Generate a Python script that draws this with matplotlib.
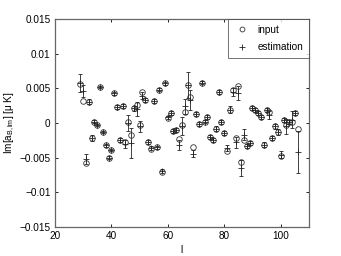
import matplotlib
matplotlib.use("Agg")
import matplotlib.pyplot as plt
from matplotlib.lines import Line2D
import numpy as np

l_vals = [29, 30, 31, 32, 33, 34, 35, 36, 37, 38, 39, 40, 41, 42, 43, 44, 45, 46, 47, 48,
          49, 50, 51, 52, 53, 54, 55, 56, 57, 58, 59, 60, 61, 62, 63, 64, 65, 66, 67, 68,
          69, 70, 71, 72, 73, 74, 75, 76, 77, 78, 79, 80, 81, 82, 83, 84, 85, 86, 87, 88,
          89, 90, 91, 92, 93, 94, 95, 96, 97, 98, 99, 100, 101, 102, 103, 104, 105, 106]
input_vals = [0.0056, 0.0032, -0.0058, 0.0031, -0.0022, 0.0002, -0.0003, 0.0052, -0.0013, -0.0032,
              -0.0050, -0.0039, 0.0043, 0.0023, -0.0025, 0.0024, -0.0027, 0.0002, -0.0017, 0.0021,
              0.0026, -0.0003, 0.0045, 0.0033, -0.0027, -0.0037, 0.0032, -0.0035, 0.0048, -0.0070,
              0.0057, 0.0007, 0.0014, -0.0011, -0.0010, -0.0023, -0.0003, 0.0016, 0.0055, 0.0037,
              -0.0035, 0.0013, -0.0001, 0.0058, 0.0002, 0.0009, -0.0020, -0.0025, -0.0008, 0.0045,
              0.0002, -0.0015, -0.0041, 0.0019, 0.0047, -0.0021, 0.0053, -0.0056, -0.0025, -0.0033,
              -0.0029, 0.0022, 0.0019, 0.0015, 0.0009, -0.0031, 0.0019, 0.0016, -0.0022, -0.0005,
              -0.0013, -0.0048, 0.0004, -0.0003, 0.0002, 0.0002, 0.0015, -0.0008]
est_vals = [0.0057, 0.0046, -0.0052, 0.0031, -0.0022, 0.0002, -0.0003, 0.0052, -0.0013, -0.0032,
            -0.0050, -0.0039, 0.0043, 0.0023, -0.0025, 0.0024, -0.0030, 0.0000, -0.0029, 0.0021,
            0.0020, -0.0005, 0.0039, 0.0033, -0.0027, -0.0036, 0.0032, -0.0035, 0.0048, -0.0069,
            0.0057, 0.0008, 0.0014, -0.0011, -0.0010, -0.0032, -0.0005, 0.0024, 0.0055, 0.0033,
            -0.0044, 0.0013, -0.0001, 0.0058, 0.0002, 0.0009, -0.0020, -0.0025, -0.0008, 0.0045,
            0.0002, -0.0015, -0.0036, 0.0019, 0.0045, -0.0028, 0.0043, -0.0065, -0.0017, -0.0033,
            -0.0029, 0.0022, 0.0019, 0.0015, 0.0009, -0.0031, 0.0019, 0.0012, -0.0022, -0.0005,
            -0.0013, -0.0046, 0.0004, -0.0005, 0.0002, 0.0005, 0.0015, -0.0042]
err_vals = [0.0013, 0.0009, 0.0007, 0.0003, 0.0004, 0.0002, 0.0002, 0.0002, 0.0002, 0.0002,
            0.0002, 0.0002, 0.0002, 0.0003, 0.0003, 0.0003, 0.0006, 0.0012, 0.0022, 0.0003,
            0.0010, 0.0008, 0.0005, 0.0003, 0.0003, 0.0003, 0.0003, 0.0002, 0.0002, 0.0003,
            0.0002, 0.0002, 0.0003, 0.0003, 0.0003, 0.0007, 0.0013, 0.0011, 0.0019, 0.0014,
            0.0005, 0.0003, 0.0003, 0.0002, 0.0002, 0.0003, 0.0003, 0.0003, 0.0003, 0.0003,
            0.0003, 0.0003, 0.0005, 0.0005, 0.0006, 0.0008, 0.0010, 0.0011, 0.0008, 0.0003,
            0.0003, 0.0003, 0.0003, 0.0003, 0.0003, 0.0003, 0.0003, 0.0006, 0.0003, 0.0003,
            0.0005, 0.0005, 0.0003, 0.0011, 0.0003, 0.0012, 0.0003, 0.0030]

x_ticks = [20, 40, 60, 80, 100]
y_ticks = [-0.015, -0.01, -0.005, 0, 0.005, 0.01, 0.015]
y_ticklabels = ["\u22120.015", "\u22120.01", "\u22120.005", "0", "0.005", "0.01", "0.015"]

plt.rcParams['font.family'] = ['Liberation Sans', 'DejaVu Sans']
plt.rcParams['mathtext.fontset'] = 'custom'
plt.rcParams['mathtext.rm'] = 'Liberation Sans'
plt.rcParams['mathtext.it'] = 'Liberation Sans'
plt.rcParams['mathtext.default'] = 'regular'

fig = plt.figure(figsize=(3.41, 2.56), dpi=100)
ax = fig.add_axes([0.161, 0.113, 0.745, 0.813])

ax.plot(l_vals, input_vals, linestyle='none', marker='o', markersize=4,
        markerfacecolor='none', markeredgecolor='#333333', markeredgewidth=0.6)
ax.errorbar(l_vals, est_vals, yerr=err_vals, fmt='+', color='#222222', markersize=4,
            elinewidth=0.6, capsize=1.5, capthick=0.6, markeredgewidth=0.6)

ax.set_xlim(20, 110)
ax.set_ylim(-0.015, 0.015)
ax.set_xticks(x_ticks)
ax.set_yticks(y_ticks)
ax.set_yticklabels(y_ticklabels)
ax.tick_params(direction='in', length=2.5, labelsize=7.2, width=0.6, top=True, right=True,
               labeltop=False, labelright=False, pad=3)
for s in ax.spines.values():
    s.set_linewidth(0.9)
    s.set_color('#666666')

ax.set_xlabel('l', fontsize=7.2, labelpad=3)
ax.set_ylabel(r'Im[a$_{B,lm}$] [$\mu$ K]', fontsize=7.2, labelpad=2)

h_in = Line2D([], [], linestyle='none', marker='o', markersize=3.5, markerfacecolor='none',
              markeredgecolor='#333333', markeredgewidth=0.6)
h_est = Line2D([], [], linestyle='none', marker='+', markersize=4, color='#222222',
               markeredgewidth=0.6)
leg = ax.legend([h_in, h_est], ['input', 'estimation'], loc='upper right', fontsize=7.2,
                frameon=True, fancybox=False, edgecolor='#333333', borderaxespad=0.0,
                handlelength=1.5, handletextpad=0.8, borderpad=0.6, labelspacing=0.75)
leg.get_frame().set_linewidth(0.6)

fig.savefig('out.png', dpi=100)
